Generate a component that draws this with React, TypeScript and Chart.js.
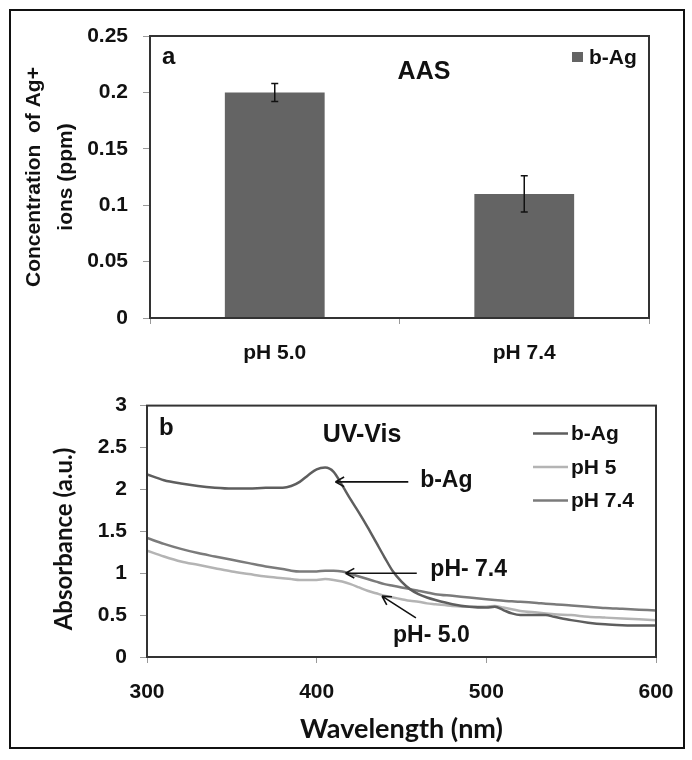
import { useEffect, useRef } from 'react'
import { Chart, registerables } from 'chart.js'

Chart.register(...registerables)

const ARIAL = '"Liberation Sans", Arial, sans-serif'
const CALIBRI = 'Lato, "Open Sans", sans-serif'
const INK = '#111'

// panel a: AAS
const PH_LABELS = ['pH 5.0', 'pH 7.4']
const AAS_VALUES = [0.2, 0.11]
const AAS_ERRORS = [0.008, 0.016]

// panel b: UV-Vis spectra
const WAVELENGTH = [
  300, 310, 320, 330, 340, 350, 360, 370, 380, 385, 390, 395, 400, 405, 410,
  415, 420, 425, 430, 435, 440, 445, 450, 455, 460, 465, 470, 480, 490, 500,
  505, 510, 515, 520, 530, 535, 540, 550, 560, 570, 580, 590, 600,
]
const B_AG = [
  2.18, 2.11, 2.07, 2.04, 2.02, 2.01, 2.01, 2.02, 2.02, 2.04, 2.09, 2.17, 2.24, 2.26, 2.21,
  2.05, 1.88, 1.72, 1.55, 1.37, 1.19, 1.02, 0.9, 0.81, 0.75, 0.71, 0.68, 0.63, 0.6, 0.59,
  0.6, 0.56, 0.52, 0.5, 0.5, 0.5, 0.48, 0.44, 0.41, 0.39, 0.38, 0.375, 0.375,
]
const PH5 = [
  1.27, 1.2, 1.14, 1.1, 1.06, 1.02, 0.99, 0.96, 0.94, 0.93, 0.92, 0.92, 0.92, 0.93, 0.92,
  0.9, 0.87, 0.83, 0.79, 0.76, 0.73, 0.71, 0.69, 0.67, 0.66, 0.64, 0.63, 0.61, 0.6, 0.6,
  0.61, 0.59, 0.57, 0.55, 0.53, 0.52, 0.51, 0.5, 0.48, 0.47, 0.46, 0.45, 0.44,
]
const PH74 = [
  1.42, 1.35, 1.29, 1.24, 1.2, 1.16, 1.12, 1.08, 1.05, 1.03, 1.02, 1.02, 1.02, 1.03, 1.03,
  1.02, 0.99, 0.96, 0.93, 0.9, 0.87, 0.85, 0.83, 0.81, 0.79, 0.77, 0.75, 0.73, 0.71, 0.69,
  0.68, 0.67, 0.665, 0.66, 0.645, 0.635, 0.63, 0.615, 0.6, 0.585, 0.575, 0.565, 0.555,
]

// arrows + labels inside panel b, in data units (nm, absorbance)
const ANNOTATIONS = [
  { text: 'b-Ag', tail: [454, 2.09], head: [411, 2.09], at: [461, 2.1] },
  { text: 'pH- 7.4', tail: [459, 1.0], head: [417, 1.0], at: [467, 1.04] },
  { text: 'pH- 5.0', tail: [458.5, 0.466], head: [438.5, 0.727], at: [445, 0.25] },
]

const tickText = (v: number | string) => String(+Number(v).toFixed(2))

const framePlugin = {
  id: 'frame',
  afterDatasetsDraw(chart: any) {
    const { ctx, chartArea: a } = chart
    ctx.save()
    ctx.strokeStyle = '#333'
    ctx.lineWidth = 2
    ctx.strokeRect(a.left, a.top, a.right - a.left, a.bottom - a.top)
    ctx.restore()
  },
}

const errorBarPlugin = {
  id: 'errorBars',
  afterDatasetsDraw(chart: any, _args: any, opts: any) {
    const { ctx } = chart
    const y = chart.scales.y
    const values = chart.data.datasets[0].data as number[]
    ctx.save()
    ctx.strokeStyle = INK
    ctx.lineWidth = 1.5
    chart.getDatasetMeta(0).data.forEach((bar: any, i: number) => {
      const top = y.getPixelForValue(values[i] + opts.errors[i])
      const bottom = y.getPixelForValue(values[i] - opts.errors[i])
      ctx.beginPath()
      ctx.moveTo(bar.x, top)
      ctx.lineTo(bar.x, bottom)
      ctx.moveTo(bar.x - 3.5, top)
      ctx.lineTo(bar.x + 3.5, top)
      ctx.moveTo(bar.x - 3.5, bottom)
      ctx.lineTo(bar.x + 3.5, bottom)
      ctx.stroke()
    })
    ctx.restore()
  },
}

const legendPlugin = {
  id: 'cornerLegend',
  afterDraw(chart: any, _args: any, opts: any) {
    const { ctx, chartArea } = chart
    const x0 = chartArea.right - opts.right
    ctx.save()
    ctx.font = `bold ${opts.size}px ${ARIAL}`
    ctx.textBaseline = 'middle'
    ctx.textAlign = 'left'
    chart.data.datasets.forEach((ds: any, i: number) => {
      const y = chartArea.top + opts.top + i * opts.rowGap
      if (opts.marker === 'box') {
        ctx.fillStyle = ds.backgroundColor
        ctx.fillRect(x0, y - 5, 11, 10)
      } else {
        ctx.strokeStyle = ds.borderColor
        ctx.lineWidth = 2.5
        ctx.beginPath()
        ctx.moveTo(x0, y)
        ctx.lineTo(x0 + 35, y)
        ctx.stroke()
      }
      ctx.fillStyle = INK
      ctx.fillText(ds.label, x0 + opts.textGap, y + 1)
    })
    ctx.restore()
  },
}

const panelTextPlugin = {
  id: 'panelText',
  afterDraw(chart: any, _args: any, opts: any) {
    const { ctx, chartArea } = chart
    ctx.save()
    ctx.fillStyle = INK
    ctx.textBaseline = 'middle'
    ctx.font = `bold 24px ${ARIAL}`
    ctx.textAlign = 'left'
    ctx.fillText(opts.letter, chartArea.left + 12, chartArea.top + opts.letterY)
    ctx.font = `bold 25px ${ARIAL}`
    ctx.textAlign = 'center'
    ctx.fillText(opts.title, chartArea.left + opts.titleX, chartArea.top + opts.titleY)
    if (opts.yTitle) {
      ctx.translate(opts.yTitle.x, opts.yTitle.y)
      ctx.rotate(-Math.PI / 2)
      ctx.font = `bold 24px ${CALIBRI}`
      ctx.fillText(opts.yTitle.text, 0, 0)
    }
    ctx.restore()
  },
}

const annotationPlugin = {
  id: 'arrows',
  afterDatasetsDraw(chart: any, _args: any, opts: any) {
    const { ctx } = chart
    const { x, y } = chart.scales
    ctx.save()
    ctx.strokeStyle = INK
    ctx.fillStyle = INK
    ctx.lineWidth = 1.6
    ctx.font = `bold 23px ${ARIAL}`
    ctx.textBaseline = 'middle'
    ctx.textAlign = 'left'
    for (const a of opts.items) {
      const tx = x.getPixelForValue(a.tail[0])
      const ty = y.getPixelForValue(a.tail[1])
      const hx = x.getPixelForValue(a.head[0])
      const hy = y.getPixelForValue(a.head[1])
      const ang = Math.atan2(ty - hy, tx - hx)
      ctx.beginPath()
      ctx.moveTo(tx, ty)
      ctx.lineTo(hx, hy)
      for (const s of [-0.5, 0.5]) {
        ctx.moveTo(hx, hy)
        ctx.lineTo(hx + 10 * Math.cos(ang + s), hy + 10 * Math.sin(ang + s))
      }
      ctx.stroke()
      ctx.fillText(a.text, x.getPixelForValue(a.at[0]), y.getPixelForValue(a.at[1]))
    }
    ctx.restore()
  },
}

function AasChart() {
  const canvasRef = useRef<HTMLCanvasElement>(null)

  useEffect(() => {
    if (!canvasRef.current) return
    const chart = new Chart(canvasRef.current, {
      type: 'bar',
      data: {
        labels: PH_LABELS,
        datasets: [
          {
            label: 'b-Ag',
            data: AAS_VALUES,
            backgroundColor: '#646464',
            categoryPercentage: 1,
            barPercentage: 0.4,
          },
        ],
      },
      plugins: [framePlugin, errorBarPlugin, legendPlugin, panelTextPlugin],
      options: {
        animation: false,
        responsive: false,
        layout: { padding: { top: 36, right: 43, left: 0, bottom: 0 } },
        plugins: {
          legend: { display: false },
          tooltip: { enabled: false },
          errorBars: { errors: AAS_ERRORS },
          cornerLegend: { marker: 'box', right: 77, top: 21, rowGap: 0, textGap: 17, size: 21 },
          panelText: { letter: 'a', letterY: 21, title: 'AAS', titleX: 274, titleY: 36 },
        } as any,
        scales: {
          x: {
            grid: { offset: true, drawOnChartArea: false, tickLength: 6, color: '#999' },
            border: { display: false },
            ticks: { color: INK, padding: 17, font: { family: ARIAL, size: 21, weight: 'bold' } },
            afterFit: (s: any) => { s.height = 62 },
          },
          y: {
            min: 0,
            max: 0.25,
            grid: { drawOnChartArea: false, tickLength: 7, color: '#999' },
            border: { display: false },
            ticks: {
              stepSize: 0.05,
              color: INK,
              padding: 15,
              font: { family: ARIAL, size: 21, weight: 'bold' },
              callback: tickText,
            },
            title: {
              display: true,
              text: ['Concentration  of Ag+', 'ions (ppm)'],
              color: INK,
              font: { family: ARIAL, size: 21, weight: 'bold', lineHeight: 1.52 },
              padding: { top: 18, bottom: 0 },
            },
            afterFit: (s: any) => { s.width = 150 },
          },
        },
      },
    })
    return () => chart.destroy()
  }, [])

  return (
    <canvas ref={canvasRef} width={692} height={380} style={{ position: 'absolute', left: 0, top: 0 }} />
  )
}

function UvVisChart() {
  const canvasRef = useRef<HTMLCanvasElement>(null)

  useEffect(() => {
    if (!canvasRef.current) return
    const series = (values: number[]) => WAVELENGTH.map((w, i) => ({ x: w, y: values[i] }))
    const line = { pointRadius: 0, borderWidth: 2.5, cubicInterpolationMode: 'monotone' as const }
    const chart = new Chart(canvasRef.current, {
      type: 'line',
      data: {
        datasets: [
          { label: 'b-Ag', data: series(B_AG), borderColor: '#5e5e5e', ...line },
          { label: 'pH 5', data: series(PH5), borderColor: '#b4b4b4', ...line },
          { label: 'pH 7.4', data: series(PH74), borderColor: '#7b7b7b', ...line },
        ],
      },
      plugins: [framePlugin, annotationPlugin, legendPlugin, panelTextPlugin],
      options: {
        animation: false,
        responsive: false,
        layout: { padding: { top: 12, right: 36, left: 0, bottom: 0 } },
        plugins: {
          legend: { display: false },
          tooltip: { enabled: false },
          arrows: { items: ANNOTATIONS },
          cornerLegend: { marker: 'line', right: 123, top: 28, rowGap: 33.5, textGap: 38, size: 21 },
          panelText: {
            letter: 'b',
            letterY: 23,
            title: 'UV-Vis',
            titleX: 215,
            titleY: 30,
            yTitle: { text: 'Absorbance (a.u.)', x: 64, y: 159 },
          },
        } as any,
        scales: {
          x: {
            type: 'linear',
            min: 300,
            max: 600,
            grid: { drawOnChartArea: false, tickLength: 6, color: '#999' },
            border: { display: false },
            ticks: { stepSize: 100, color: INK, padding: 17, font: { family: ARIAL, size: 21, weight: 'bold' } },
            title: {
              display: true,
              text: 'Wavelength (nm)',
              color: INK,
              font: { family: CALIBRI, size: 27, weight: 'bold' },
              padding: { top: 0, bottom: 15 },
            },
            afterFit: (s: any) => { s.height = 103 },
          },
          y: {
            min: 0,
            max: 3,
            grid: { drawOnChartArea: false, tickLength: 7, color: '#999' },
            border: { display: false },
            ticks: {
              stepSize: 0.5,
              color: INK,
              padding: 13,
              font: { family: ARIAL, size: 21, weight: 'bold' },
              callback: tickText,
            },
            afterFit: (s: any) => { s.width = 147 },
          },
        },
      },
    })
    return () => chart.destroy()
  }, [])

  return (
    <canvas ref={canvasRef} width={692} height={380} style={{ position: 'absolute', left: 0, top: 380 }} />
  )
}

export default function App() {
  return (
    <div style={{ position: 'absolute', left: 0, top: 0, width: 692, height: 760, background: '#fff' }}>
      <div
        style={{
          position: 'absolute',
          left: 9,
          top: 9,
          width: 676,
          height: 740,
          boxSizing: 'border-box',
          border: '2px solid #111',
        }}
      />
      <AasChart />
      <UvVisChart />
    </div>
  )
}
